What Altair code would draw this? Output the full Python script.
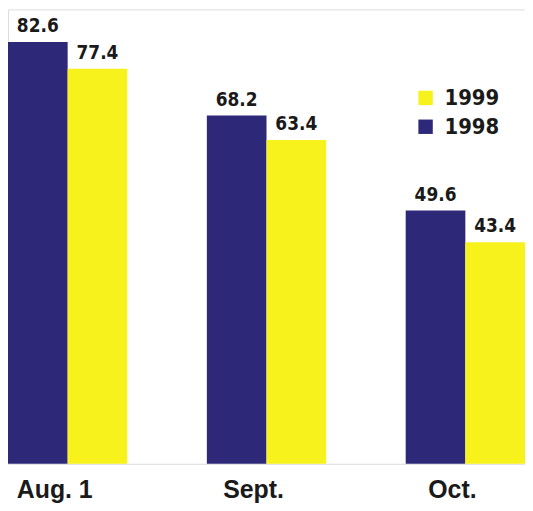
import altair as alt
import pandas as pd

categories = ["Aug. 1", "Sept.", "Oct."]
v1998 = [82.6, 68.2, 49.6]
v1999 = [77.4, 63.4, 43.4]

rows = []
for c, a, b in zip(categories, v1998, v1999):
    rows.append({"cat": c, "year": "1998", "value": a})
    rows.append({"cat": c, "year": "1999", "value": b})
df = pd.DataFrame(rows)

NARROW = "DejaVu Sans Condensed"
navy = "#2e2878"
yellow = "#f8f21c"

x = alt.X("cat:N", sort=categories, title=None,
          scale=alt.Scale(paddingInner=0.4, paddingOuter=0),
          axis=alt.Axis(labelAngle=0, domain=False, ticks=False, labelFontSize=25,
                        labelFontWeight="bold", labelFont="Liberation Sans",
                        labelColor="#1a1a1a", labelPadding=14, labelOffset=-13))
xo = alt.XOffset("year:N", sort=["1998", "1999"],
                 scale=alt.Scale(paddingInner=0, paddingOuter=0))
y = alt.Y("value:Q", scale=alt.Scale(domain=[0, 89], nice=False), axis=None)

base = alt.Chart(df).encode(x=x, xOffset=xo, y=y)

bars = base.mark_bar().encode(
    color=alt.Color("year:N",
                    scale=alt.Scale(domain=["1999", "1998"], range=[yellow, navy]),
                    legend=alt.Legend(title=None, orient="none", legendX=409, legendY=78,
                                      symbolType="square", symbolSize=210,
                                      symbolStrokeWidth=0, labelFontSize=22,
                                      labelFont=NARROW, labelFontWeight="bold",
                                      labelColor="#1a1a1a", rowPadding=7, labelOffset=8))
)

labels = base.mark_text(baseline="alphabetic", dy=-10, fontSize=19, font=NARROW,
                        fontWeight="bold", color="#1a1a1a").encode(
    text=alt.Text("value:Q", format=".1f"))

chart = (bars + labels).properties(width=520, height=457, padding=0).configure_view(
    stroke=None).configure(background="white")

chart.save("out.html", embed_options={"renderer": "svg", "actions": False})
